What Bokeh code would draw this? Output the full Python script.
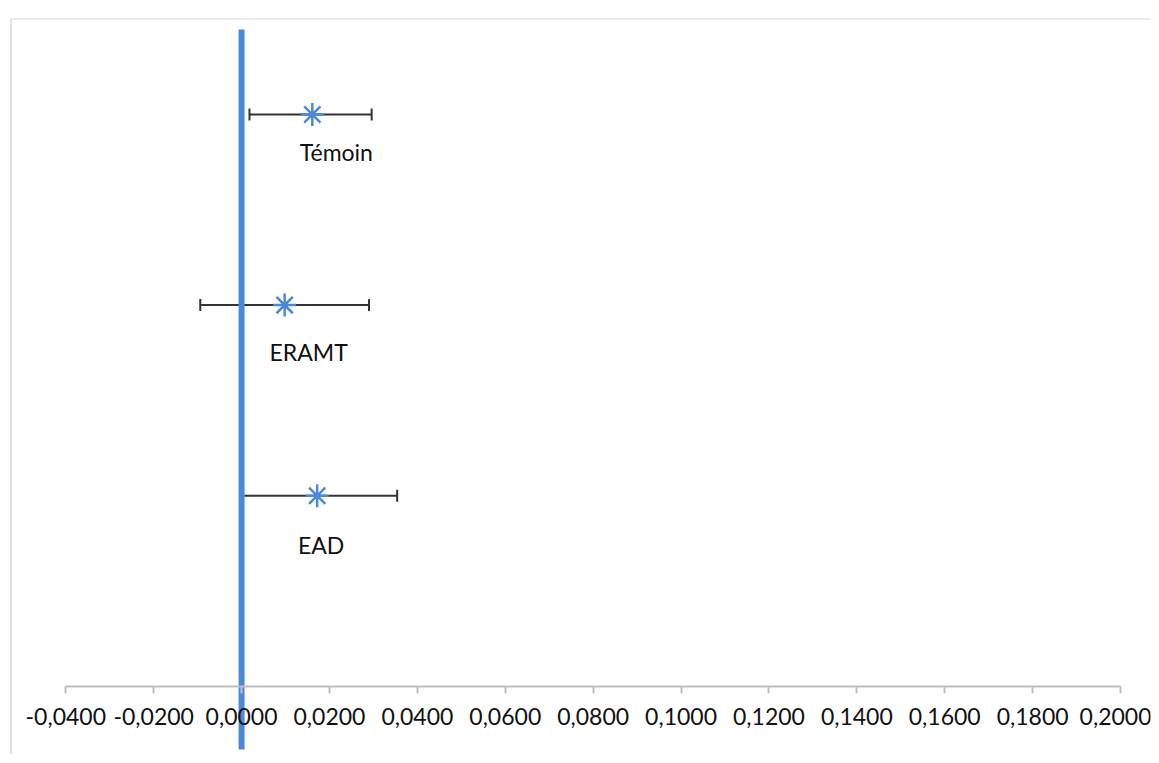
from bokeh.plotting import figure
from bokeh.models import (ColumnDataSource, Range1d, LinearAxis, FixedTicker,
                          CustomJSTickFormatter, Whisker, TeeHead, Span)
from bokeh.core.properties import value
from bokeh.embed import file_html
from bokeh.resources import INLINE

# ---- data ----
groups = ["Témoin", "ERAMT", "EAD"]
y_pos = [3, 2, 1]
estimate = [0.0161, 0.0098, 0.0172]
ci_low = [0.0018, -0.0094, 0.0001]
ci_high = [0.0296, 0.0290, 0.0354]
ref_line_x = [0.0, 0.0]
ref_line_y = [-0.33, 3.445]
x_ticks = [-0.04, -0.02, 0.0, 0.02, 0.04, 0.06, 0.08, 0.10, 0.12, 0.14, 0.16, 0.18, 0.20]

# label offsets (pixels, styling; positive = down)
label_dx = [24, 24, 4]
label_dy = [38, 47, 49]

FONT = "Lato"
BLUE = "#4a88da"

src = ColumnDataSource(dict(y=y_pos, est=estimate, lo=ci_low, hi=ci_high,
                            name=groups, dx=label_dx, dy=label_dy))

xr = Range1d(-0.05258, 0.20682)
yr = Range1d(-0.3566, 3.503)
p = figure(width=1151, height=755, output_backend="svg", toolbar_location=None,
           x_range=xr, y_range=yr,
           x_axis_location=None, y_axis_location=None,
           min_border_left=10, min_border_top=18, min_border_right=1, min_border_bottom=1)
p.grid.visible = False
p.outline_line_color = None
p.background_fill_color = "white"
p.border_fill_color = "white"

# chart-area border (left and top edges only are visible in the reference)
p.add_layout(Span(location=xr.start, dimension="height", line_color="#c8c8c8", line_width=2))
p.add_layout(Span(location=yr.end, dimension="width", line_color="#d8d8d8", line_width=2))

# x axis at y = 0
ax = LinearAxis(fixed_location=0, ticker=FixedTicker(ticks=x_ticks), bounds=(-0.04, 0.2))
ax.formatter = CustomJSTickFormatter(code="""
    var s = Math.abs(tick) < 1e-9 ? (0).toFixed(4) : tick.toFixed(4);
    return s.replace('.', ',');
""")
ax.axis_line_color = "#bfbfbf"
ax.axis_line_width = 2
ax.major_tick_line_color = "#bfbfbf"
ax.major_tick_line_width = 2
ax.major_tick_out = 7
ax.major_tick_in = 0
ax.minor_tick_line_color = None
ax.major_label_text_font = FONT
ax.major_label_text_font_size = "23px"
ax.major_label_text_color = "#111111"
ax.major_label_standoff = 15
p.add_layout(ax, "below")

# error bars
wh = Whisker(source=src, base="y", lower="lo", upper="hi", dimension="width",
             line_color="#333333", line_width=2,
             lower_head=TeeHead(size=12, line_color="#333333", line_width=2),
             upper_head=TeeHead(size=12, line_color="#333333", line_width=2))
p.add_layout(wh)

# markers
p.scatter("est", "y", source=src, marker="asterisk", size=23,
          line_color=BLUE, line_width=2.5)

# labels
p.text("est", "y", text="name", source=src, x_offset="dx", y_offset="dy",
       text_align="center", text_baseline="middle",
       text_font=value(FONT), text_font_size="23px", text_color="#111111")

# reference line at 0
p.line(ref_line_x, ref_line_y, line_color=BLUE, line_width=6)

open("out.html", "w").write(file_html(p, INLINE))
